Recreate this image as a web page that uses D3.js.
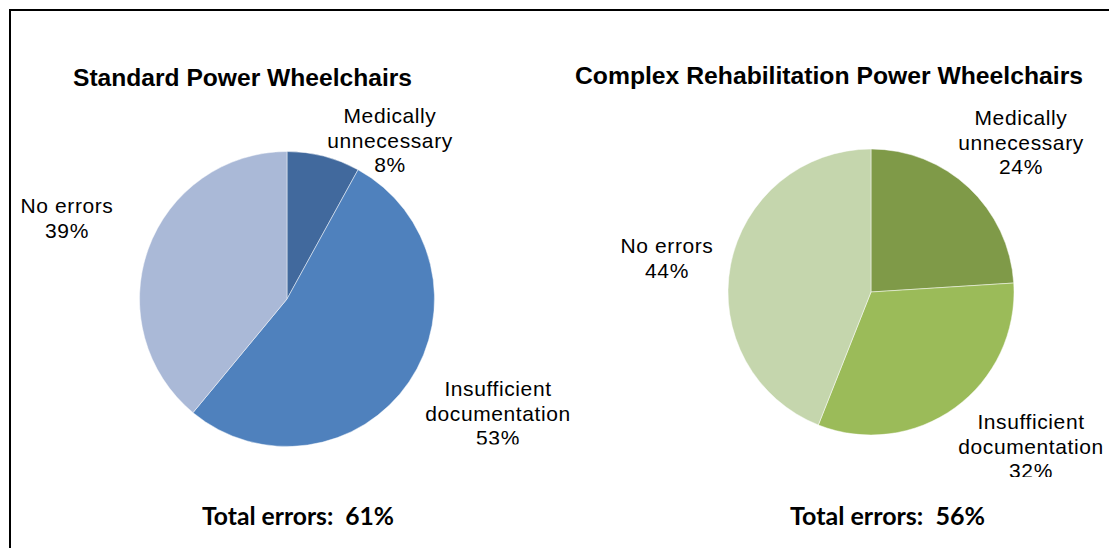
<!DOCTYPE html>
<html>
<head>
<meta charset="utf-8">
<script src="https://cdn.jsdelivr.net/npm/d3@7"></script>
<style>
  html, body { margin: 0; padding: 0; background: #fff; }
  svg { display: block; }
  .lbl { font-family: "Liberation Sans", Arial, sans-serif; font-size: 21px; fill: #000; letter-spacing: 0.6px; }
  .ttl { font-family: "Liberation Sans", Arial, sans-serif; font-size: 23px; font-weight: bold; fill: #000; }
  .tot { font-family: Lato, "Open Sans", sans-serif; font-size: 24px; font-weight: bold; fill: #000; white-space: pre; }
</style>
</head>
<body>
<svg id="chart" width="1109" height="548"></svg>
<script>
// data
var categories = ["Medically unnecessary", "Insufficient documentation", "No errors"];
var labelLines = [["Medically", "unnecessary"], ["Insufficient", "documentation"], ["No errors"]];
var standardValues = [8, 53, 39];
var complexValues = [24, 32, 44];
var titles = ["Standard Power Wheelchairs", "Complex Rehabilitation Power Wheelchairs"];
var totals = ["Total errors:  61%", "Total errors:  56%"];

var blues = ["#41699d", "#4f81bd", "#aab9d7"];
var greens = ["#7f9a48", "#9bbb59", "#c5d6ad"];

// layout for each pie: centre, radius, title, label offsets (relative to centre), clip bottom
var charts = [
  {values: standardValues, colors: blues, cx: 287, cy: 299, r: 147.5,
   title: titles[0], titleX: 73, titleY: 86, titleW: 339,
   total: totals[0], totalX: 202, totalY: 525, totalW: 192,
   labelOff: [[103, -176], [211, 97], [-220, -86]], clipBottom: 444.5},
  {values: complexValues, colors: greens, cx: 871, cy: 292, r: 143,
   title: titles[1], titleX: 575, titleY: 84, titleW: 508,
   total: totals[1], totalX: 790, totalY: 525, totalW: 195,
   labelOff: [[150, -167], [160, 137], [-204, -39]], clipBottom: 477}
];
var lineH = 24.5;

var svg = d3.select("#chart");

// outer frame (right and bottom fall outside the picture)
svg.append("rect")
  .attr("x", 10).attr("y", 10)
  .attr("width", 1140).attr("height", 600)
  .attr("fill", "none").attr("stroke", "#000").attr("stroke-width", 2);

var pie = d3.pie().sort(null).value(d => d);

charts.forEach(function(c, ci) {
  var clipId = "clip" + ci;
  svg.append("clipPath").attr("id", clipId)
    .append("rect").attr("x", 0).attr("y", 0).attr("width", 1109).attr("height", c.clipBottom);

  var arc = d3.arc().innerRadius(0).outerRadius(c.r);
  var color = d3.scaleOrdinal().domain(categories).range(c.colors);

  svg.append("g")
    .attr("transform", "translate(" + c.cx + "," + c.cy + ")")
    .selectAll("path")
    .data(pie(c.values))
    .join("path")
      .attr("d", arc)
      .attr("fill", (d, i) => color(categories[i]))
      .attr("stroke", "#ffffff")
      .attr("stroke-opacity", 0.6)
      .attr("stroke-width", 0.8);

  // data labels (cut off at the bottom of the chart area, as in the original)
  var g = svg.append("g").attr("clip-path", "url(#" + clipId + ")");
  c.values.forEach(function(v, i) {
    var lines = labelLines[i].concat([v + "%"]);
    var t = g.append("text").attr("class", "lbl")
      .attr("text-anchor", "middle")
      .attr("x", c.cx + c.labelOff[i][0])
      .attr("y", c.cy + c.labelOff[i][1]);
    lines.forEach(function(s, k) {
      t.append("tspan")
        .attr("x", c.cx + c.labelOff[i][0])
        .attr("dy", k === 0 ? 0 : lineH)
        .text(s);
    });
  });

  svg.append("text").attr("class", "ttl")
    .attr("x", c.titleX).attr("y", c.titleY)
    .attr("textLength", c.titleW).attr("lengthAdjust", "spacingAndGlyphs")
    .text(c.title);

  svg.append("text").attr("class", "tot")
    .attr("x", c.totalX).attr("y", c.totalY)
    .attr("textLength", c.totalW).attr("lengthAdjust", "spacingAndGlyphs")
    .text(c.total);
});
</script>
</body>
</html>
